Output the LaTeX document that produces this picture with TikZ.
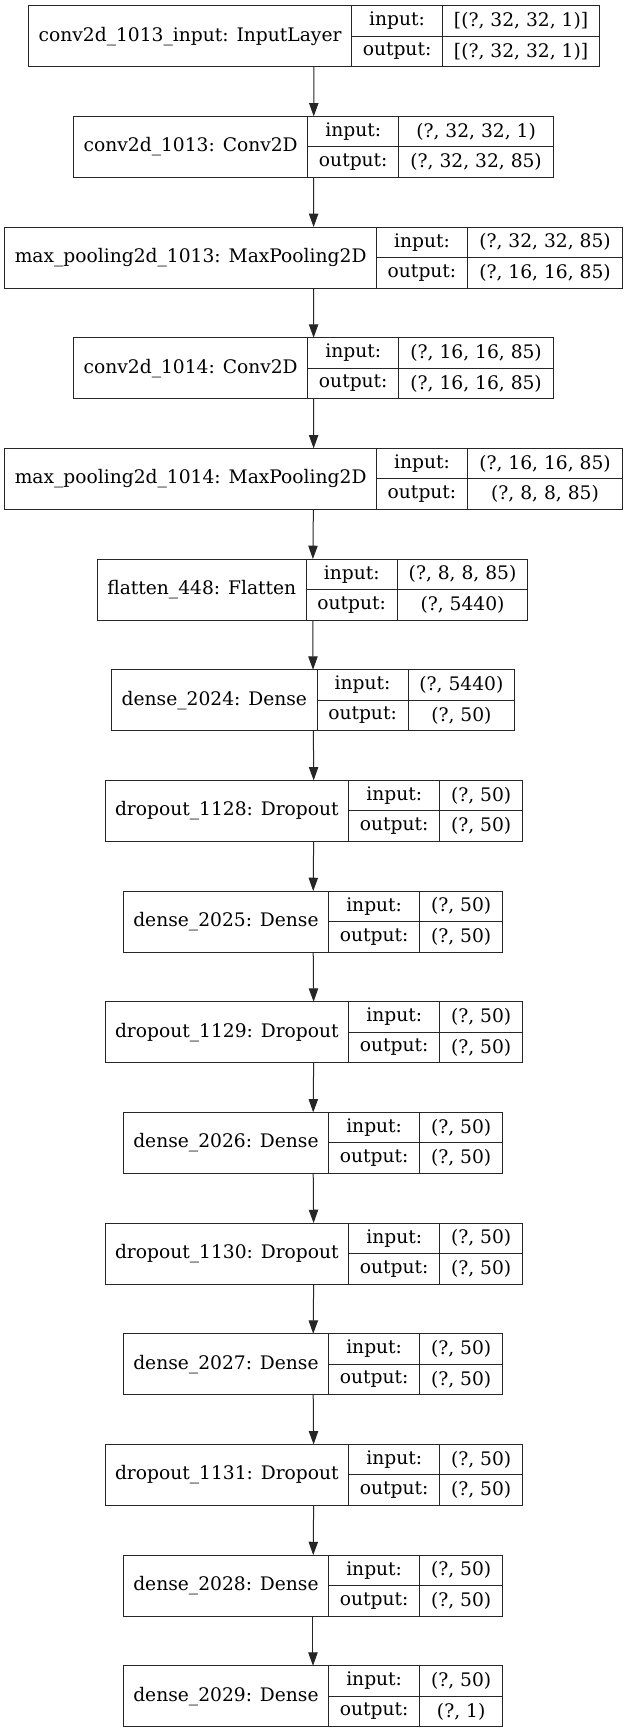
\documentclass[tikz,border=0pt]{standalone}
\usepackage{fontspec}
\setmainfont{DejaVu Serif}
\usetikzlibrary{arrows.meta,fit}

\begin{document}
\begin{tikzpicture}
    [x=0.75pt, y=-0.75pt,
    cell/.style={draw=black!85, line width=0.75pt, outer sep=0pt, inner xsep=8.4pt, inner ysep=0pt,
        font=\fontsize{14pt}{16pt}\selectfont, anchor=north west},
    namecell/.style={cell, inner xsep=7.5pt, minimum height=45.75pt, anchor=west},
    keycell/.style={cell, minimum width=68.25pt, minimum height=22.875pt},
    valcell/.style={cell, minimum width=#1, minimum height=22.875pt},
    valcell/.default=62.25pt,
    layer/.style={inner sep=0pt, outer sep=0pt},
    edge/.style={draw=black!85, line width=0.75pt, -{Triangle[length=10pt, width=7pt]}}]

    \path[fill=white] (0,0) rectangle (628,1733);
    \useasboundingbox (0,0) rectangle (628,1733);

    % input layer
    \node[namecell] (inp) at (28.7, 36.2) {conv2d\_1013\_input: InputLayer};
    \node[keycell] (inp-ki) at (inp.north east) {input:};
    \node[keycell] (inp-ko) at (inp-ki.south west) {output:};
    \node[valcell=117.75pt] (inp-vi) at (inp-ki.north east) {[(?, 32, 32, 1)]};
    \node[valcell=117.75pt] (inp-vo) at (inp-ko.north east) {[(?, 32, 32, 1)]};
    \node[layer, fit=(inp)(inp-vo)] (inp-l) {};

    % conv2d_1013
    \node[namecell] (cv1) at (73.7, 146.87) {conv2d\_1013: Conv2D};
    \node[keycell] (cv1-ki) at (cv1.north east) {input:};
    \node[keycell] (cv1-ko) at (cv1-ki.south west) {output:};
    \node[valcell=116pt] (cv1-vi) at (cv1-ki.north east) {(?, 32, 32, 1)};
    \node[valcell=116pt] (cv1-vo) at (cv1-ko.north east) {(?, 32, 32, 85)};
    \node[layer, fit=(cv1)(cv1-vo)] (cv1-l) {};

    % max_pooling2d_1013
    \node[namecell] (mp1) at (4.8, 257.54) {max\_pooling2d\_1013: MaxPooling2D};
    \node[keycell] (mp1-ki) at (mp1.north east) {input:};
    \node[keycell] (mp1-ko) at (mp1-ki.south west) {output:};
    \node[valcell=116.25pt] (mp1-vi) at (mp1-ki.north east) {(?, 32, 32, 85)};
    \node[valcell=116.25pt] (mp1-vo) at (mp1-ko.north east) {(?, 16, 16, 85)};
    \node[layer, fit=(mp1)(mp1-vo)] (mp1-l) {};

    % conv2d_1014
    \node[namecell] (cv2) at (73.7, 368.21) {conv2d\_1014: Conv2D};
    \node[keycell] (cv2-ki) at (cv2.north east) {input:};
    \node[keycell] (cv2-ko) at (cv2-ki.south west) {output:};
    \node[valcell=116pt] (cv2-vi) at (cv2-ki.north east) {(?, 16, 16, 85)};
    \node[valcell=116pt] (cv2-vo) at (cv2-ko.north east) {(?, 16, 16, 85)};
    \node[layer, fit=(cv2)(cv2-vo)] (cv2-l) {};

    % max_pooling2d_1014
    \node[namecell] (mp2) at (4.8, 478.88) {max\_pooling2d\_1014: MaxPooling2D};
    \node[keycell] (mp2-ki) at (mp2.north east) {input:};
    \node[keycell] (mp2-ko) at (mp2-ki.south west) {output:};
    \node[valcell=116.25pt] (mp2-vi) at (mp2-ki.north east) {(?, 16, 16, 85)};
    \node[valcell=116.25pt] (mp2-vo) at (mp2-ko.north east) {(?, 8, 8, 85)};
    \node[layer, fit=(mp2)(mp2-vo)] (mp2-l) {};

    % flatten_448
    \node[namecell] (flt) at (97.3, 589.55) {flatten\_448: Flatten};
    \node[keycell] (flt-ki) at (flt.north east) {input:};
    \node[keycell] (flt-ko) at (flt-ki.south west) {output:};
    \node[valcell=98pt] (flt-vi) at (flt-ki.north east) {(?, 8, 8, 85)};
    \node[valcell=98pt] (flt-vo) at (flt-ko.north east) {(?, 5440)};
    \node[layer, fit=(flt)(flt-vo)] (flt-l) {};

    % dense_2024
    \node[namecell] (ds1) at (111.7, 700.22) {dense\_2024: Dense};
    \node[keycell] (ds1-ki) at (ds1.north east) {input:};
    \node[keycell] (ds1-ko) at (ds1-ki.south west) {output:};
    \node[valcell=80pt] (ds1-vi) at (ds1-ki.north east) {(?, 5440)};
    \node[valcell=80pt] (ds1-vo) at (ds1-ko.north east) {(?, 50)};
    \node[layer, fit=(ds1)(ds1-vo)] (ds1-l) {};

    % dropout_1128
    \node[namecell] (dr1) at (105, 810.89) {dropout\_1128: Dropout};
    \node[keycell] (dr1-ki) at (dr1.north east) {input:};
    \node[keycell] (dr1-ko) at (dr1-ki.south west) {output:};
    \node[valcell] (dr1-vi) at (dr1-ki.north east) {(?, 50)};
    \node[valcell] (dr1-vo) at (dr1-ko.north east) {(?, 50)};
    \node[layer, fit=(dr1)(dr1-vo)] (dr1-l) {};

    % dense_2025
    \node[namecell] (ds2) at (123.3, 921.56) {dense\_2025: Dense};
    \node[keycell] (ds2-ki) at (ds2.north east) {input:};
    \node[keycell] (ds2-ko) at (ds2-ki.south west) {output:};
    \node[valcell] (ds2-vi) at (ds2-ki.north east) {(?, 50)};
    \node[valcell] (ds2-vo) at (ds2-ko.north east) {(?, 50)};
    \node[layer, fit=(ds2)(ds2-vo)] (ds2-l) {};

    % dropout_1129
    \node[namecell] (dr2) at (105, 1032.23) {dropout\_1129: Dropout};
    \node[keycell] (dr2-ki) at (dr2.north east) {input:};
    \node[keycell] (dr2-ko) at (dr2-ki.south west) {output:};
    \node[valcell] (dr2-vi) at (dr2-ki.north east) {(?, 50)};
    \node[valcell] (dr2-vo) at (dr2-ko.north east) {(?, 50)};
    \node[layer, fit=(dr2)(dr2-vo)] (dr2-l) {};

    % dense_2026
    \node[namecell] (ds3) at (123.3, 1142.9) {dense\_2026: Dense};
    \node[keycell] (ds3-ki) at (ds3.north east) {input:};
    \node[keycell] (ds3-ko) at (ds3-ki.south west) {output:};
    \node[valcell] (ds3-vi) at (ds3-ki.north east) {(?, 50)};
    \node[valcell] (ds3-vo) at (ds3-ko.north east) {(?, 50)};
    \node[layer, fit=(ds3)(ds3-vo)] (ds3-l) {};

    % dropout_1130
    \node[namecell] (dr3) at (105, 1253.57) {dropout\_1130: Dropout};
    \node[keycell] (dr3-ki) at (dr3.north east) {input:};
    \node[keycell] (dr3-ko) at (dr3-ki.south west) {output:};
    \node[valcell] (dr3-vi) at (dr3-ki.north east) {(?, 50)};
    \node[valcell] (dr3-vo) at (dr3-ko.north east) {(?, 50)};
    \node[layer, fit=(dr3)(dr3-vo)] (dr3-l) {};

    % dense_2027
    \node[namecell] (ds4) at (123.3, 1364.24) {dense\_2027: Dense};
    \node[keycell] (ds4-ki) at (ds4.north east) {input:};
    \node[keycell] (ds4-ko) at (ds4-ki.south west) {output:};
    \node[valcell] (ds4-vi) at (ds4-ki.north east) {(?, 50)};
    \node[valcell] (ds4-vo) at (ds4-ko.north east) {(?, 50)};
    \node[layer, fit=(ds4)(ds4-vo)] (ds4-l) {};

    % dropout_1131
    \node[namecell] (dr4) at (105, 1474.91) {dropout\_1131: Dropout};
    \node[keycell] (dr4-ki) at (dr4.north east) {input:};
    \node[keycell] (dr4-ko) at (dr4-ki.south west) {output:};
    \node[valcell] (dr4-vi) at (dr4-ki.north east) {(?, 50)};
    \node[valcell] (dr4-vo) at (dr4-ko.north east) {(?, 50)};
    \node[layer, fit=(dr4)(dr4-vo)] (dr4-l) {};

    % dense_2028
    \node[namecell] (ds5) at (123.3, 1585.58) {dense\_2028: Dense};
    \node[keycell] (ds5-ki) at (ds5.north east) {input:};
    \node[keycell] (ds5-ko) at (ds5-ki.south west) {output:};
    \node[valcell] (ds5-vi) at (ds5-ki.north east) {(?, 50)};
    \node[valcell] (ds5-vo) at (ds5-ko.north east) {(?, 50)};
    \node[layer, fit=(ds5)(ds5-vo)] (ds5-l) {};

    % dense_2029
    \node[namecell] (ds6) at (123.3, 1696.25) {dense\_2029: Dense};
    \node[keycell] (ds6-ki) at (ds6.north east) {input:};
    \node[keycell] (ds6-ko) at (ds6-ki.south west) {output:};
    \node[valcell] (ds6-vi) at (ds6-ki.north east) {(?, 50)};
    \node[valcell] (ds6-vo) at (ds6-ko.north east) {(?, 1)};
    \node[layer, fit=(ds6)(ds6-vo)] (ds6-l) {};

    % arrows between layers
    \draw[edge] (inp-l) -- (cv1-l);
    \draw[edge] (cv1-l) -- (mp1-l);
    \draw[edge] (mp1-l) -- (cv2-l);
    \draw[edge] (cv2-l) -- (mp2-l);
    \draw[edge] (mp2-l) -- (flt-l);
    \draw[edge] (flt-l) -- (ds1-l);
    \draw[edge] (ds1-l) -- (dr1-l);
    \draw[edge] (dr1-l) -- (ds2-l);
    \draw[edge] (ds2-l) -- (dr2-l);
    \draw[edge] (dr2-l) -- (ds3-l);
    \draw[edge] (ds3-l) -- (dr3-l);
    \draw[edge] (dr3-l) -- (ds4-l);
    \draw[edge] (ds4-l) -- (dr4-l);
    \draw[edge] (dr4-l) -- (ds5-l);
    \draw[edge] (ds5-l) -- (ds6-l);

\end{tikzpicture}
\end{document}
